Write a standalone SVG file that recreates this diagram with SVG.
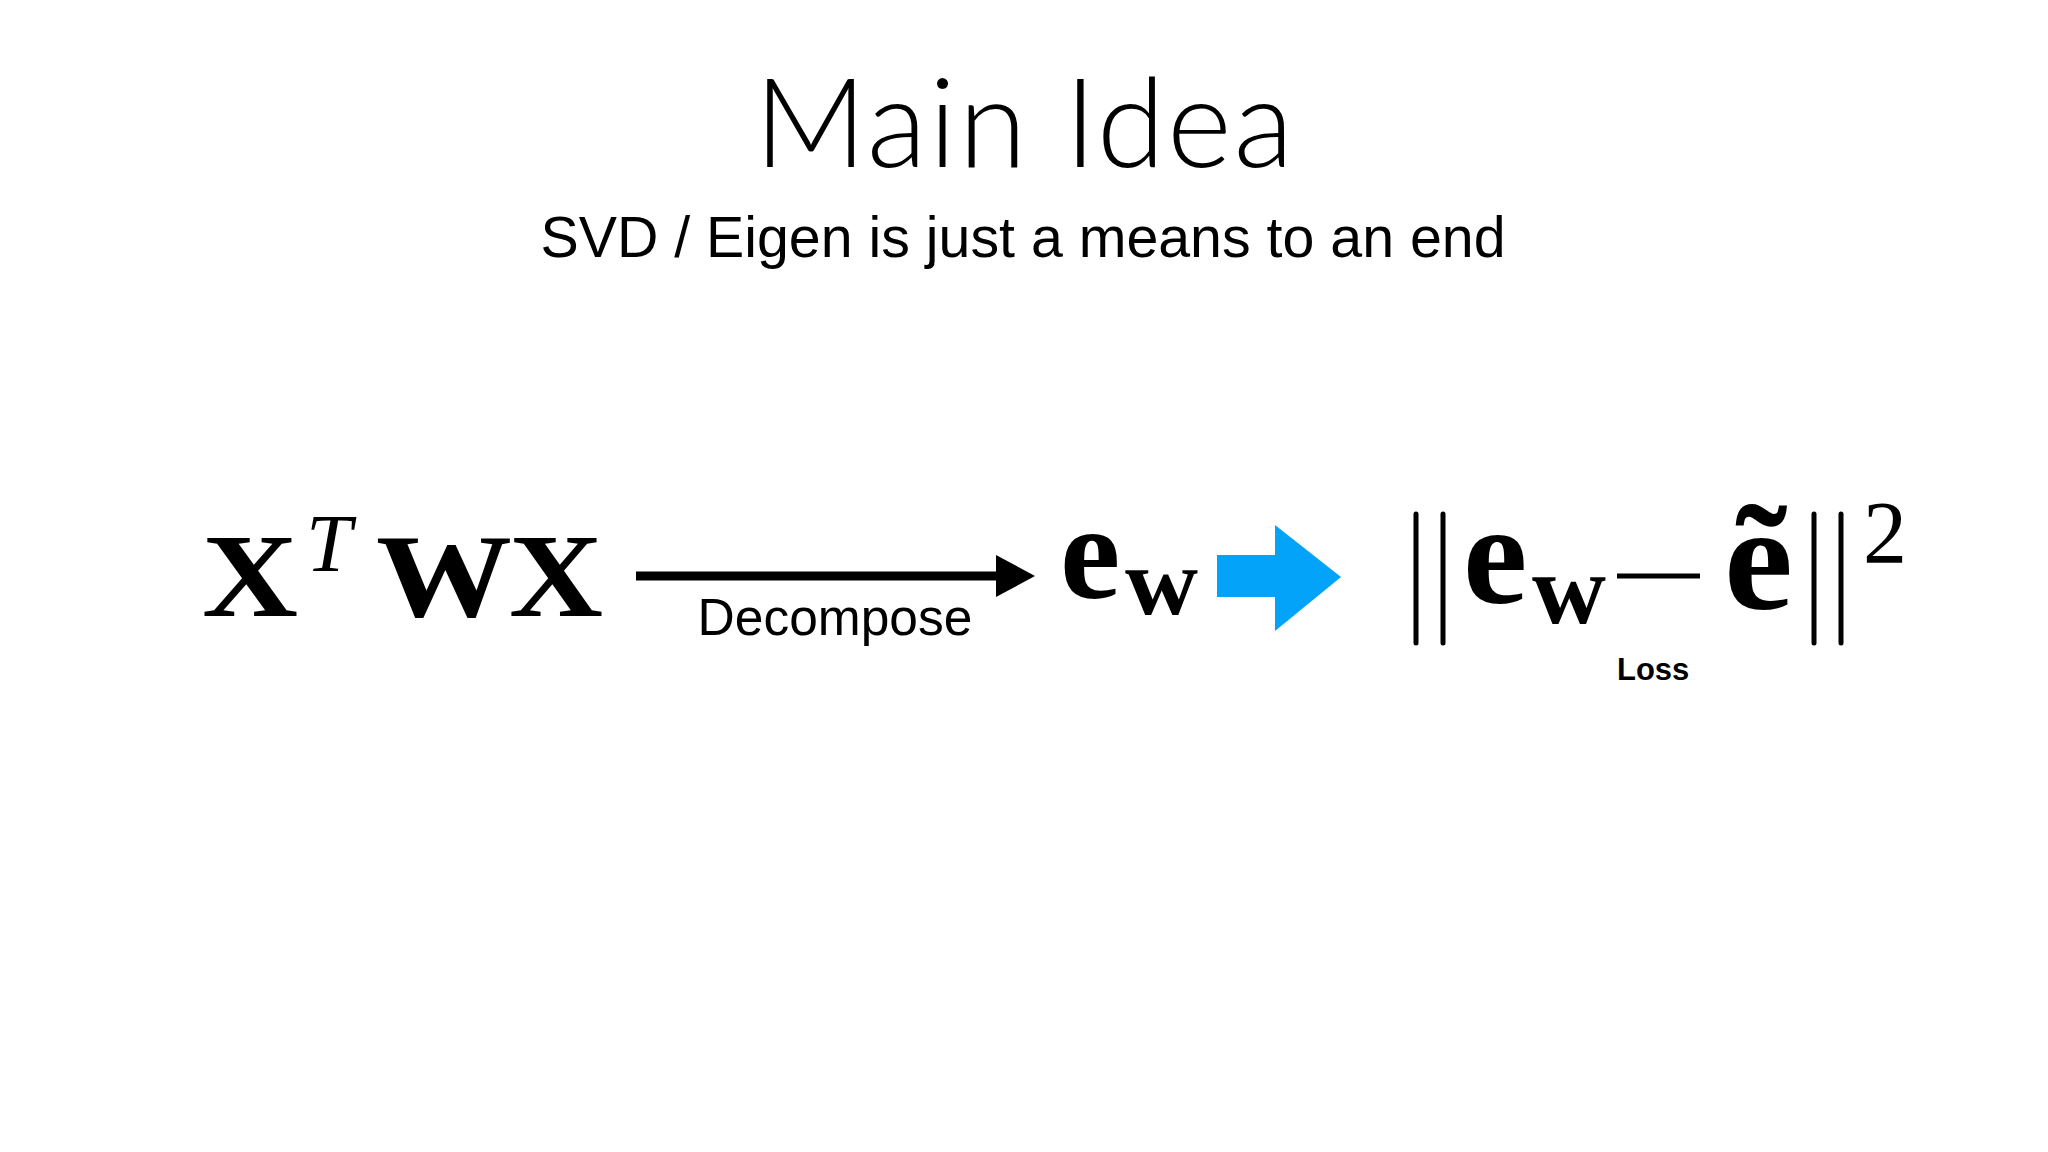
<svg xmlns="http://www.w3.org/2000/svg" width="2048" height="1152" viewBox="0 0 2048 1152">
<style>
.title{font-family:Lato,"Open Sans",sans-serif;font-weight:300;font-size:124px;letter-spacing:2px;fill:#000}
.sub{font-family:"Liberation Sans",Arial,sans-serif;font-size:57.3px;fill:#000}
.lbl{font-family:"Liberation Sans",Arial,sans-serif;font-size:51.5px;fill:#000}
.lbls{font-family:"Liberation Sans",Arial,sans-serif;font-size:31px;font-weight:bold;fill:#000}
.mb{font-family:"Liberation Serif","Times New Roman",serif;font-weight:bold;fill:#000}
.mi{font-family:"Liberation Serif","Times New Roman",serif;font-style:italic;fill:#000}
.mr{font-family:"Liberation Serif","Times New Roman",serif;fill:#000}
.bar{stroke:#000;stroke-width:5;stroke-linecap:round;fill:none}
</style>
<defs>
<marker id="head" markerUnits="userSpaceOnUse" markerWidth="40" markerHeight="44" refX="0" refY="22" orient="auto">
<polygon points="0,1 39,22 0,43" fill="#000"/>
</marker>
</defs>
<rect width="2048" height="1152" fill="#fff"/>
<g id="title"><text class="title" x="1025" y="167" text-anchor="middle">Main Idea</text></g>
<g id="subtitle"><text class="sub" x="1023" y="257" text-anchor="middle">SVD / Eigen is just a means to an end</text></g>
<g id="node-xtwx">
<text class="mb" x="202" y="616" font-size="118" textLength="96" lengthAdjust="spacingAndGlyphs">X</text>
<text class="mi" x="306" y="571" font-size="82">T</text>
<text class="mb" x="376" y="616" font-size="118" textLength="136" lengthAdjust="spacingAndGlyphs">W</text>
<text class="mb" x="509" y="616" font-size="118" textLength="94" lengthAdjust="spacingAndGlyphs">X</text>
</g>
<g id="node-ew">
<text class="mb" x="1060" y="598" font-size="136">e</text>
<text class="mb" x="1125" y="614" font-size="95" textLength="73" lengthAdjust="spacingAndGlyphs">w</text>
</g>
<g id="node-loss">
<line class="bar" x1="1416" y1="514" x2="1416" y2="643"/>
<line class="bar" x1="1443" y1="514" x2="1443" y2="643"/>
<text class="mb" x="1463" y="603" font-size="145">e</text>
<text class="mb" x="1532" y="623" font-size="100" textLength="74" lengthAdjust="spacingAndGlyphs">w</text>
<line x1="1617" y1="576" x2="1700" y2="576" stroke="#000" stroke-width="5"/>
<text class="mb" x="1724" y="609" font-size="150" textLength="69" lengthAdjust="spacingAndGlyphs">ẽ</text>
<line class="bar" x1="1814" y1="514" x2="1814" y2="643"/>
<line class="bar" x1="1841" y1="514" x2="1841" y2="643"/>
<text class="mr" x="1863" y="562" font-size="88">2</text>
<text class="lbls" x="1617" y="680">Loss</text>
</g>
<g id="connectors">
<line x1="636" y1="576" x2="996" y2="576" stroke="#000" stroke-width="9" marker-end="url(#head)"/>
<text class="lbl" x="835" y="635" text-anchor="middle">Decompose</text>
<polygon points="1217,555 1275,555 1275,525 1341,577 1275,631 1275,597 1217,597" fill="#02A3F8"/>
</g>
</svg>
